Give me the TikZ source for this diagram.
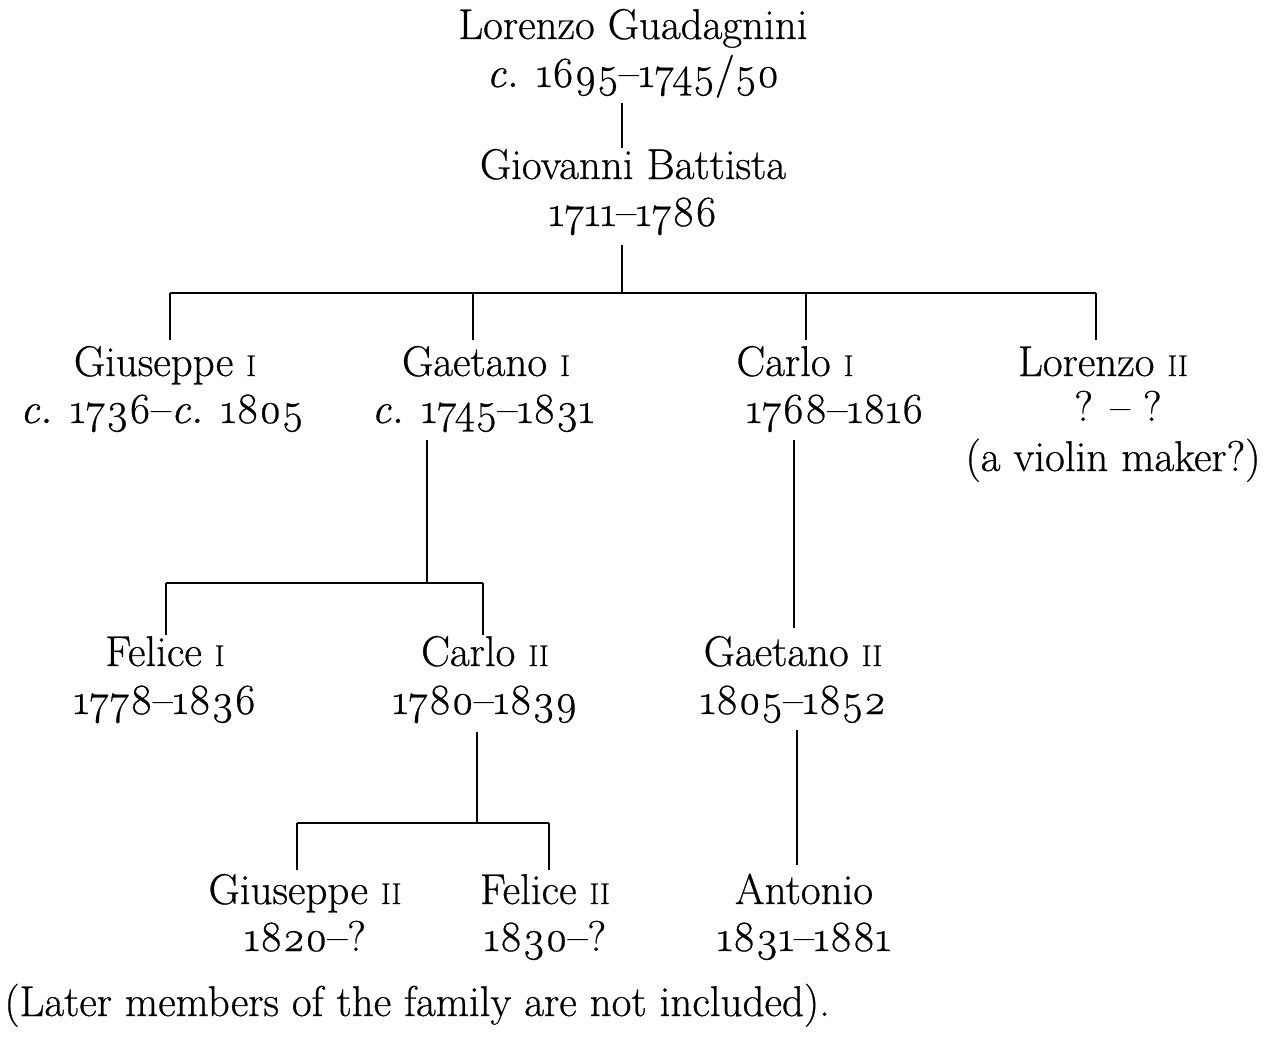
\documentclass[tikz,border=0pt]{standalone}
\usepackage{fontspec}
\setmainfont{Latin Modern Roman}[Numbers=OldStyle, FakeBold=0.6]
\newcommand\rnum[1]{{\fontsize{15}{15}\selectfont #1}}
\begin{document}
\begin{tikzpicture}[x=0.5pt,y=-0.5pt,
  nm/.style={inner sep=0pt, text height=15pt, text depth=4pt, font=\fontsize{21.5}{25}\selectfont},
  ln/.style={line width=1.3pt}]
\useasboundingbox (0,0) rectangle (1280,1049);
% people
\node[nm] (lg)  at (633,28)  {Lorenzo Guadagnini};
\node[nm] (lgd) at (633,76)  {\textit{c.} 1695–1745/50};
\node[nm] (gb)  at (633,168) {Giovanni Battista};
\node[nm] (gbd) at (633,215) {1711–1786};
\node[nm] (g1)  at (165,365) {Giuseppe \rnum{I}};
\node[nm] (g1d) at (162,412) {\textit{c.} 1736–\textit{c.} 1805};
\node[nm] (ga1) at (486,365) {Gaetano \rnum{I}};
\node[nm] (ga1d) at (483,412) {\textit{c.} 1745–1831};
\node[nm] (c1)  at (795,365) {Carlo \rnum{I}};
\node[nm] (c1d) at (835,412) {1768–1816};
\node[nm] (l2)  at (1103,365) {Lorenzo \rnum{II}};
\node[nm] (l2d) at (1118,410) {? – ?};
\node[nm] (l2n) at (1113,460) {(a violin maker?)};
\node[nm] (f1)  at (165,655) {Felice \rnum{I}};
\node[nm] (f1d) at (165,703) {1778–1836};
\node[nm] (c2)  at (485,655) {Carlo \rnum{II}};
\node[nm] (c2d) at (485,703) {1780–1839};
\node[nm] (ga2) at (793,655) {Gaetano \rnum{II}};
\node[nm] (ga2d) at (793,703) {1805–1852};
\node[nm] (g2)  at (305,893) {Giuseppe \rnum{II}};
\node[nm] (g2d) at (305,940) {1820–?};
\node[nm] (f2)  at (545,893) {Felice \rnum{II}};
\node[nm] (f2d) at (545,940) {1830–?};
\node[nm] (an)  at (804,893) {Antonio};
\node[nm] (and) at (804,940) {1831–1881};
\node[nm, anchor=west] (note) at (4,1005) {(Later members of the family are not included).};
% connector points
\coordinate (a1) at (622,103); \coordinate (a2) at (622,148);
\coordinate (b1) at (622,245); \coordinate (b2) at (622,293);
\coordinate (bl) at (170,293); \coordinate (br) at (1096,293);
\coordinate (t1) at (170,340); \coordinate (t1u) at (170,293);
\coordinate (t2) at (473,340); \coordinate (t2u) at (473,293);
\coordinate (t3) at (806,340); \coordinate (t3u) at (806,293);
\coordinate (t4) at (1096,340);
\coordinate (d1) at (427,440); \coordinate (d2) at (427,583);
\coordinate (dl) at (166,583); \coordinate (dr) at (483,583);
\coordinate (e1) at (166,635); \coordinate (e2) at (483,635);
\coordinate (h1) at (794,440); \coordinate (h2) at (794,628);
\coordinate (k1) at (477,732); \coordinate (k2) at (477,823);
\coordinate (kl) at (297,823); \coordinate (kr) at (549,823);
\coordinate (m1) at (297,870); \coordinate (m2) at (549,870);
\coordinate (p1) at (797,730); \coordinate (p2) at (797,865);
% connectors
\draw[ln] (a1) -- (a2);
\draw[ln] (b1) -- (b2);
\draw[ln] (bl) -- (br);
\draw[ln] (t1u) -- (t1);
\draw[ln] (t2u) -- (t2);
\draw[ln] (t3u) -- (t3);
\draw[ln] (br) -- (t4);
\draw[ln] (d1) -- (d2);
\draw[ln] (dl) -- (dr);
\draw[ln] (dl) -- (e1);
\draw[ln] (dr) -- (e2);
\draw[ln] (h1) -- (h2);
\draw[ln] (k1) -- (k2);
\draw[ln] (kl) -- (kr);
\draw[ln] (kl) -- (m1);
\draw[ln] (kr) -- (m2);
\draw[ln] (p1) -- (p2);
\end{tikzpicture}
\end{document}
